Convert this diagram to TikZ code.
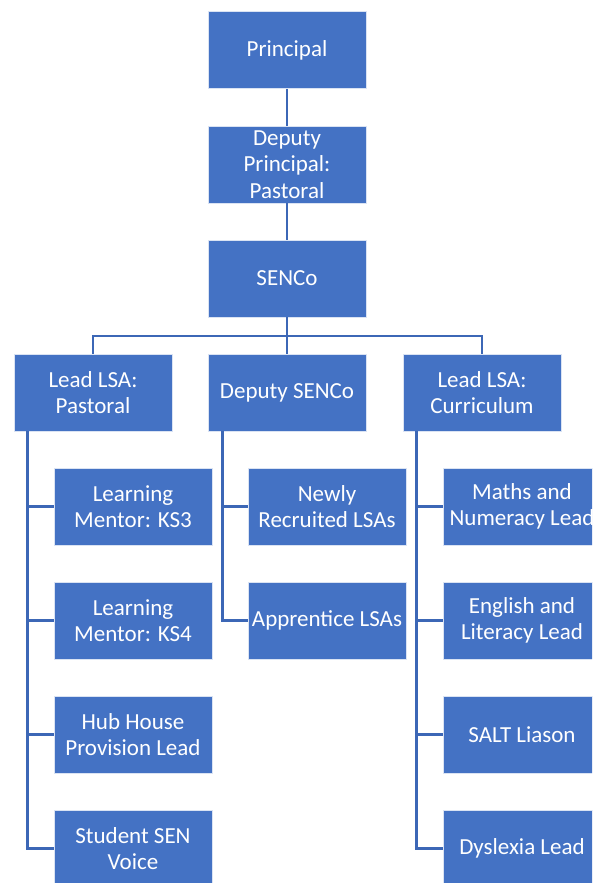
\documentclass[tikz,border=0pt]{standalone}
\usepackage{fontspec}
\setmainfont{Carlito}
\definecolor{boxblue}{HTML}{4472C4}
\definecolor{lineblue}{HTML}{3C67B6}
\begin{document}
\begin{tikzpicture}[x=1pt,y=-1pt,
  orgbox/.style={rectangle,fill=boxblue,draw=white!80!boxblue,line width=0.6pt,
    minimum width=158pt,minimum height=77pt,inner sep=0pt,align=center,
    text=white,font=\fontsize{23}{26.5}\selectfont},
  conn/.style={draw=lineblue,line width=2.6pt}]
\useasboundingbox (0,0) rectangle (592,883);
\clip (0,0) rectangle (592,883);
\fill[white] (0,0) rectangle (592,883);
% top chain
\node[orgbox] (prin) at (287,50) {Principal};
\node[orgbox] (dep) at (287,164.5) {Deputy\\Principal:\\Pastoral};
\node[orgbox] (senco) at (287,278.5) {SENCo};
% second level
\node[orgbox] (pas) at (93,392.5) {Lead LSA:\\Pastoral};
\node[orgbox] (dsenco) at (287,392.5) {Deputy SENCo};
\node[orgbox] (cur) at (482,392.5) {Lead LSA:\\Curriculum};
% pastoral children
\node[orgbox] (ks3) at (133,506.5) {Learning\\Mentor: KS3};
\node[orgbox] (ks4) at (133,620.5) {Learning\\Mentor: KS4};
\node[orgbox] (hub) at (133,734.5) {Hub House\\Provision Lead};
\node[orgbox] (voice) at (133,848.5) {Student SEN\\Voice};
% deputy SENCo children
\node[orgbox] (newly) at (327,506.5) {Newly\\Recruited LSAs};
\node[orgbox] (appr) at (327,620.5) {Apprentice LSAs};
% curriculum children
\node[orgbox] (maths) at (522,506.5) {Maths and\\Numeracy Lead};
\node[orgbox] (eng) at (522,620.5) {English and\\Literacy Lead};
\node[orgbox] (salt) at (522,734.5) {SALT Liason};
\node[orgbox] (dys) at (522,848.5) {Dyslexia Lead};
% connectors
\coordinate (bar) at (287,336);
\draw[conn] (prin.south) -- (dep.north);
\draw[conn] (dep.south) -- (senco.north);
\draw[conn] (senco.south) -- (bar);
\draw[conn] (pas.north) |- (bar) -| (cur.north);
\draw[conn] (bar) -- (dsenco.north);
\coordinate (pt) at ([xshift=14pt]pas.south west);
\coordinate (dt) at ([xshift=15pt]dsenco.south west);
\coordinate (ct) at ([xshift=14pt]cur.south west);
\draw[conn] (pt) |- (voice.west);
\draw[conn] (pt) |- (ks3.west);
\draw[conn] (pt) |- (ks4.west);
\draw[conn] (pt) |- (hub.west);
\draw[conn] (dt) |- (appr.west);
\draw[conn] (dt) |- (newly.west);
\draw[conn] (ct) |- (dys.west);
\draw[conn] (ct) |- (maths.west);
\draw[conn] (ct) |- (eng.west);
\draw[conn] (ct) |- (salt.west);
\end{tikzpicture}
\end{document}
